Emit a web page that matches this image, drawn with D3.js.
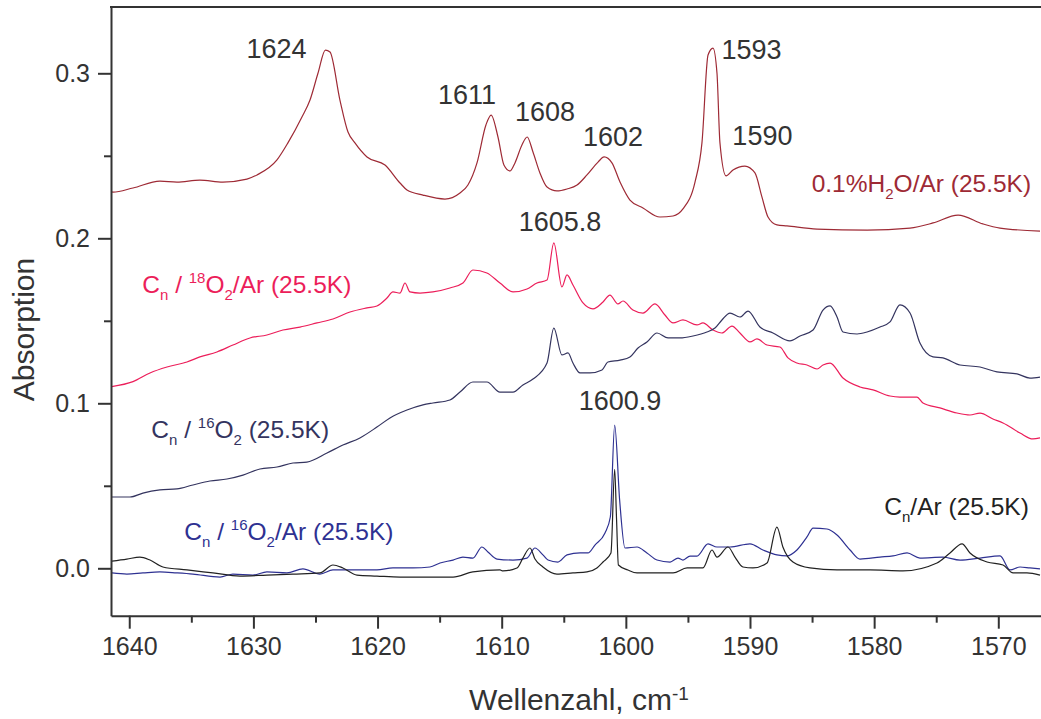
<!DOCTYPE html>
<html>
<head>
<meta charset="utf-8">
<script src="https://cdn.jsdelivr.net/npm/d3@7"></script>
<style>
  body { margin: 0; background: #fff; }
  svg { display: block; }
  text { font-family: "Liberation Sans", Arial, sans-serif; }
</style>
</head>
<body>
<svg id="chart" width="1041" height="719"></svg>
<script>
// Axis ticks
const xTicks = [1640, 1630, 1620, 1610, 1600, 1590, 1580, 1570];
const xMinorTicks = [1635, 1625, 1615, 1605, 1595, 1585, 1575];
const yTicks = [0.0, 0.1, 0.2, 0.3];
const yMinorTicks = [0.05, 0.15, 0.25];

// Spectra: [wavenumber (cm-1), absorbance]
const h2oAr = [
  [1641.47,0.2281],[1641.31,0.2280],[1639.70,0.2305],[1637.53,0.2347],[1636.16,0.2341],[1634.31,0.2353],
  [1632.46,0.2341],[1630.52,0.2359],[1629.71,0.2384],[1628.10,0.2475],[1627.22,0.2578],[1626.09,0.2735],
  [1625.44,0.2838],[1624.80,0.3000],[1624.20,0.3141],[1623.83,0.3129],[1623.03,0.2838],[1622.38,0.2644],
  [1621.82,0.2578],[1620.85,0.2493],[1619.40,0.2444],[1618.19,0.2335],[1617.63,0.2293],[1616.34,0.2262],
  [1614.57,0.2238],[1613.36,0.2275],[1612.72,0.2323],[1611.99,0.2457],[1611.27,0.2687],[1610.85,0.2747],
  [1610.30,0.2614],[1609.82,0.2444],[1609.33,0.2408],[1608.93,0.2457],[1608.37,0.2565],[1607.95,0.2614],
  [1607.48,0.2523],[1606.92,0.2396],[1606.35,0.2311],[1605.55,0.2287],[1604.74,0.2299],[1603.93,0.2323],
  [1603.13,0.2384],[1602.24,0.2462],[1601.75,0.2493],[1601.12,0.2457],[1600.47,0.2341],[1599.67,0.2232],
  [1598.62,0.2184],[1597.25,0.2129],[1596.20,0.2135],[1595.40,0.2178],[1594.43,0.2341],[1593.87,0.2578],
  [1593.38,0.3111],[1592.98,0.3153],[1592.66,0.3002],[1592.42,0.2578],[1591.93,0.2378],[1591.37,0.2414],
  [1590.41,0.2438],[1589.60,0.2396],[1589.04,0.2251],[1588.55,0.2129],[1587.83,0.2081],[1587.02,0.2075],
  [1584.60,0.2056],[1580.57,0.2050],[1577.11,0.2062],[1575.26,0.2093],[1573.24,0.2141],[1571.23,0.2087],
  [1569.86,0.2062],[1566.64,0.2044]
];

const cn18O2Ar = [
  [1641.42,0.1101],[1639.70,0.1131],[1638.33,0.1184],[1636.96,0.1220],[1635.35,0.1250],[1634.31,0.1281],
  [1632.94,0.1311],[1631.65,0.1353],[1630.28,0.1396],[1628.91,0.1414],[1627.62,0.1444],[1626.25,0.1462],
  [1624.88,0.1487],[1623.59,0.1511],[1622.22,0.1553],[1620.85,0.1578],[1620.05,0.1590],[1619.24,0.1638],
  [1618.76,0.1675],[1618.19,0.1668],[1617.79,0.1729],[1617.39,0.1675],[1616.58,0.1668],[1615.54,0.1675],
  [1614.17,0.1699],[1613.12,0.1729],[1612.32,0.1808],[1611.19,0.1790],[1610.14,0.1729],[1609.09,0.1675],
  [1607.96,0.1693],[1607.16,0.1729],[1606.35,0.1747],[1605.80,0.1972],[1605.15,0.1705],[1604.74,0.1778],
  [1604.26,0.1717],[1603.45,0.1608],[1602.65,0.1572],[1601.84,0.1614],[1601.28,0.1656],[1600.64,0.1602],
  [1600.23,0.1620],[1599.43,0.1565],[1598.62,0.1547],[1597.65,0.1602],[1596.85,0.1535],[1596.20,0.1487],
  [1595.40,0.1505],[1594.27,0.1475],[1593.79,0.1487],[1592.98,0.1444],[1592.26,0.1426],[1591.45,0.1468],
  [1590.81,0.1426],[1590.00,0.1372],[1589.44,0.1390],[1588.63,0.1353],[1587.59,0.1341],[1586.94,0.1275],
  [1586.22,0.1244],[1585.41,0.1232],[1584.60,0.1208],[1584.12,0.1232],[1583.55,0.1244],[1582.51,0.1153],
  [1581.14,0.1099],[1580.09,0.1081],[1578.72,0.1044],[1577.92,0.1038],[1576.55,0.1038],[1576.07,0.1002],
  [1574.70,0.0972],[1573.33,0.0941],[1572.28,0.0929],[1571.47,0.0941],[1570.43,0.0905],[1569.62,0.0881],
  [1568.25,0.0820],[1567.21,0.0784],[1566.64,0.0790]
];

const cn16O2 = [
  [1641.39,0.0432],[1639.94,0.0432],[1638.90,0.0456],[1637.53,0.0475],[1636.16,0.0481],[1634.87,0.0505],
  [1633.50,0.0529],[1632.13,0.0541],[1630.84,0.0565],[1629.47,0.0602],[1628.10,0.0614],[1626.81,0.0638],
  [1625.69,0.0644],[1624.07,0.0699],[1622.79,0.0747],[1621.42,0.0790],[1620.05,0.0856],[1619.00,0.0911],
  [1617.63,0.0959],[1616.34,0.0990],[1615.54,0.1002],[1614.17,0.1020],[1613.36,0.1068],[1612.32,0.1129],
  [1611.19,0.1129],[1610.14,0.1068],[1609.09,0.1068],[1608.29,0.1111],[1607.48,0.1147],[1606.35,0.1244],
  [1605.80,0.1456],[1605.15,0.1293],[1604.66,0.1305],[1604.26,0.1244],[1603.69,0.1184],[1602.89,0.1184],
  [1601.92,0.1202],[1601.44,0.1250],[1600.47,0.1262],[1599.67,0.1281],[1599.02,0.1335],[1598.30,0.1372],
  [1597.49,0.1426],[1596.60,0.1396],[1595.64,0.1396],[1594.59,0.1408],[1593.47,0.1432],[1592.82,0.1456],
  [1592.26,0.1505],[1591.61,0.1547],[1590.81,0.1523],[1590.16,0.1559],[1589.20,0.1462],[1588.15,0.1426],
  [1586.78,0.1378],[1585.97,0.1408],[1584.92,0.1444],[1584.12,0.1565],[1583.55,0.1590],[1582.99,0.1523],
  [1582.51,0.1432],[1581.38,0.1420],[1580.57,0.1432],[1579.53,0.1462],[1578.72,0.1493],[1577.92,0.1596],
  [1577.11,0.1547],[1576.31,0.1365],[1575.26,0.1281],[1574.46,0.1275],[1573.08,0.1232],[1571.47,0.1220],
  [1570.11,0.1190],[1568.49,0.1178],[1567.45,0.1153],[1566.64,0.1159]
];

const cn16O2Ar = [
  [1641.39,-0.0028],[1640.19,-0.0035],[1638.90,-0.0028],[1637.53,-0.0022],[1636.16,-0.0028],[1634.87,-0.0035],
  [1632.69,-0.0053],[1631.65,-0.0035],[1630.04,-0.0041],[1628.91,-0.0022],[1627.30,-0.0028],[1626.01,-0.0004],
  [1624.64,-0.0035],[1623.59,-0.0010],[1621.42,-0.0010],[1620.05,-0.0010],[1618.76,0.0002],[1617.15,0.0002],
  [1615.78,0.0008],[1614.97,0.0032],[1613.92,0.0050],[1613.12,0.0068],[1612.32,0.0062],[1611.59,0.0129],
  [1611.11,0.0099],[1610.38,0.0056],[1609.09,0.0050],[1607.96,0.0062],[1607.32,0.0123],[1606.68,0.0081],
  [1606.27,0.0050],[1605.47,0.0038],[1604.74,0.0081],[1603.69,0.0093],[1603.05,0.0093],[1602.49,0.0141],
  [1601.68,0.0214],[1601.25,0.0311],[1600.90,0.0868],[1600.50,0.0414],[1600.07,0.0123],[1599.10,0.0129],
  [1598.30,0.0093],[1597.49,0.0050],[1596.44,0.0038],[1595.80,0.0062],[1595.40,0.0050],[1594.83,0.0074],
  [1594.27,0.0074],[1593.38,0.0148],[1592.66,0.0129],[1591.61,0.0129],[1590.00,0.0148],[1588.96,0.0111],
  [1587.83,0.0081],[1587.02,0.0075],[1586.22,0.0111],[1585.41,0.0190],[1584.92,0.0244],[1583.80,0.0238],
  [1582.99,0.0202],[1581.94,0.0111],[1581.14,0.0056],[1579.53,0.0068],[1578.48,0.0075],[1577.35,0.0093],
  [1576.31,0.0062],[1574.46,0.0068],[1573.08,0.0050],[1571.47,0.0062],[1569.86,0.0075],[1569.05,-0.0010],
  [1568.25,0.0008],[1567.45,0.0002],[1566.64,-0.0004]
];

const cnAr = [
  [1641.39,0.0044],[1640.19,0.0056],[1639.14,0.0068],[1638.33,0.0050],[1637.29,0.0008],[1635.35,-0.0010],
  [1633.26,-0.0028],[1631.08,-0.0047],[1628.91,-0.0041],[1626.81,-0.0035],[1624.64,-0.0028],[1623.59,0.0020],
  [1622.79,0.0002],[1621.66,-0.0041],[1620.05,-0.0047],[1618.19,-0.0053],[1616.02,-0.0053],[1613.92,-0.0053],
  [1612.32,-0.0022],[1610.14,-0.0010],[1609.90,-0.0016],[1608.77,0.0002],[1608.29,0.0062],[1607.72,0.0123],
  [1607.32,0.0056],[1606.68,0.0008],[1605.55,-0.0035],[1604.26,-0.0028],[1603.13,-0.0022],[1602.33,0.0002],
  [1601.84,0.0038],[1601.20,0.0093],[1600.90,0.0600],[1600.75,0.0300],[1600.60,0.0020],[1599.84,-0.0010],
  [1599.10,-0.0028],[1597.81,-0.0028],[1596.20,-0.0028],[1595.07,0.0002],[1593.79,0.0002],[1593.06,0.0111],
  [1592.66,0.0068],[1591.77,0.0129],[1591.21,0.0068],[1590.57,0.0008],[1589.76,0.0002],[1588.63,0.0032],
  [1587.83,0.0250],[1587.35,0.0129],[1586.54,0.0038],[1585.17,0.0002],[1582.99,-0.0010],[1580.33,-0.0010],
  [1577.68,-0.0016],[1574.94,0.0032],[1573.89,0.0093],[1572.92,0.0148],[1572.28,0.0093],[1570.91,0.0038],
  [1569.62,0.0020],[1568.81,-0.0028],[1567.69,-0.0028],[1566.64,-0.0041]
];

// Peak annotations: label text and where it sits (wavenumber, absorbance of baseline)
const peakLabels = [
  { text: "1624",   wn: 1628.14, abs: 0.3093 },
  { text: "1611",   wn: 1612.80, abs: 0.2814 },
  { text: "1608",   wn: 1606.51, abs: 0.2711 },
  { text: "1602",   wn: 1601.04, abs: 0.2559 },
  { text: "1593",   wn: 1589.88, abs: 0.3087 },
  { text: "1590",   wn: 1589.00, abs: 0.2565 },
  { text: "1605.8", wn: 1605.31, abs: 0.2044 },
  { text: "1600.9", wn: 1600.47, abs: 0.0959 }
];

// Series names: pieces of text with sub/superscripts
const seriesNames = [
  { key: "h2o",   wn: 1585.03, abs: 0.2280, parts: [["0.1%H",""],["2","sub"],["O/Ar (25.5K)",""]] },
  { key: "o18",   wn: 1638.95, abs: 0.1668, parts: [["C",""],["n","sub"],[" / ",""],["18","sup"],["O",""],["2","sub"],["/Ar (25.5K)",""]] },
  { key: "o16",   wn: 1638.22, abs: 0.0790, parts: [["C",""],["n","sub"],[" / ",""],["16","sup"],["O",""],["2","sub"],[" (25.5K)",""]] },
  { key: "o16ar", wn: 1635.56, abs: 0.0172, parts: [["C",""],["n","sub"],[" / ",""],["16","sup"],["O",""],["2","sub"],["/Ar (25.5K)",""]] },
  { key: "cnar",  wn: 1579.18, abs: 0.0323, parts: [["C",""],["n","sub"],["/Ar (25.5K)",""]] }
];

const colors = {
  h2o: "#9e2a35",
  o18: "#ec1e5a",
  o16: "#34345f",
  o16ar: "#2e3192",
  cnar: "#222222"
};

const series = [
  { key: "h2o", data: h2oAr },
  { key: "o18", data: cn18O2Ar },
  { key: "o16", data: cn16O2 },
  { key: "o16ar", data: cn16O2Ar },
  { key: "cnar", data: cnAr }
];

// Layout
const W = 1041, H = 719;
const margin = { left: 111, top: 7, right: 0, bottom: 103.3 };
const plotW = W - margin.left - margin.right;
const plotH = H - margin.top - margin.bottom;
const axisColor = "#333";
const textColor = "#333";

const svg = d3.select("#chart");

const x = d3.scaleLinear().domain([1641.47, 1566.56]).range([0, plotW]);
const y = d3.scaleLinear().domain([-0.02873, 0.34018]).range([plotH, 0]);

const g = svg.append("g").attr("transform", `translate(${margin.left},${margin.top})`);

g.append("defs").append("clipPath").attr("id", "plotClip")
  .append("rect").attr("x", 0).attr("y", 0).attr("width", plotW).attr("height", plotH);

// Spectra (monotone interpolation keeps peak maxima at the sampled points)
const line = d3.line().curve(d3.curveMonotoneX).x(d => x(d[0])).y(d => y(d[1]));
const lines = g.append("g").attr("clip-path", "url(#plotClip)");
series.forEach(s => {
  lines.append("path")
    .datum(s.data.slice().sort((a, b) => a[0] - b[0]))
    .attr("fill", "none")
    .attr("stroke", colors[s.key])
    .attr("stroke-width", 1.2)
    .attr("stroke-linejoin", "round")
    .attr("d", line);
});

// Axes
function styleAxis(sel) {
  sel.select(".domain").attr("stroke", axisColor).attr("stroke-width", 2);
  sel.selectAll(".tick line").attr("stroke", axisColor).attr("stroke-width", 2);
  sel.selectAll(".tick text").attr("fill", textColor).style("font-family", '"Liberation Sans", Arial, sans-serif');
}

const xAxis = g.append("g").attr("transform", `translate(0,${plotH})`)
  .call(d3.axisBottom(x).tickValues(xTicks).tickFormat(d3.format("d")).tickSize(13).tickPadding(9).tickSizeOuter(0));
xAxis.selectAll(".tick text").style("font-size", "25px");
styleAxis(xAxis);

const xMinor = g.append("g").attr("transform", `translate(0,${plotH})`)
  .call(d3.axisBottom(x).tickValues(xMinorTicks).tickFormat("").tickSize(7).tickSizeOuter(0));
xMinor.select(".domain").remove();
xMinor.selectAll(".tick line").attr("stroke", axisColor).attr("stroke-width", 2);

const yAxis = g.append("g")
  .call(d3.axisLeft(y).tickValues(yTicks).tickFormat(d3.format(".1f")).tickSize(13).tickPadding(8).tickSizeOuter(0));
yAxis.selectAll(".tick text").style("font-size", "25px");
styleAxis(yAxis);

const yMinor = g.append("g")
  .call(d3.axisLeft(y).tickValues(yMinorTicks).tickFormat("").tickSize(7).tickSizeOuter(0));
yMinor.select(".domain").remove();
yMinor.selectAll(".tick line").attr("stroke", axisColor).attr("stroke-width", 2);

// Top frame line
g.append("line")
  .attr("x1", -1).attr("x2", plotW).attr("y1", 0).attr("y2", 0)
  .attr("stroke", axisColor).attr("stroke-width", 2);

// Peak labels
g.append("g").selectAll("text").data(peakLabels).join("text")
  .attr("x", d => x(d.wn))
  .attr("y", d => y(d.abs))
  .attr("text-anchor", "middle")
  .attr("fill", textColor)
  .style("font-size", "27px")
  .text(d => d.text);

// Series names
const mainSize = 24.5, smallSize = 15;
seriesNames.forEach(n => {
  const t = g.append("text")
    .attr("x", x(n.wn))
    .attr("y", y(n.abs))
    .attr("fill", colors[n.key])
    .style("font-size", mainSize + "px");
  let shift = 0;
  n.parts.forEach(([txt, kind]) => {
    const target = kind === "sub" ? 7 : kind === "sup" ? -10 : 0;
    t.append("tspan")
      .attr("dy", target - shift)
      .style("font-size", (kind ? smallSize : mainSize) + "px")
      .text(txt);
    shift = target;
  });
});

// Axis titles
const xTitle = svg.append("text")
  .attr("x", 579)
  .attr("y", 710)
  .attr("text-anchor", "middle")
  .attr("fill", textColor)
  .style("font-size", "30px");
xTitle.append("tspan").text("Wellenzahl, cm");
xTitle.append("tspan").attr("dy", -10).style("font-size", "19px").text("-1");

svg.append("text")
  .attr("transform", "translate(34,329.5) rotate(-90)")
  .attr("text-anchor", "middle")
  .attr("fill", textColor)
  .style("font-size", "30px")
  .text("Absorption");
</script>
</body>
</html>
